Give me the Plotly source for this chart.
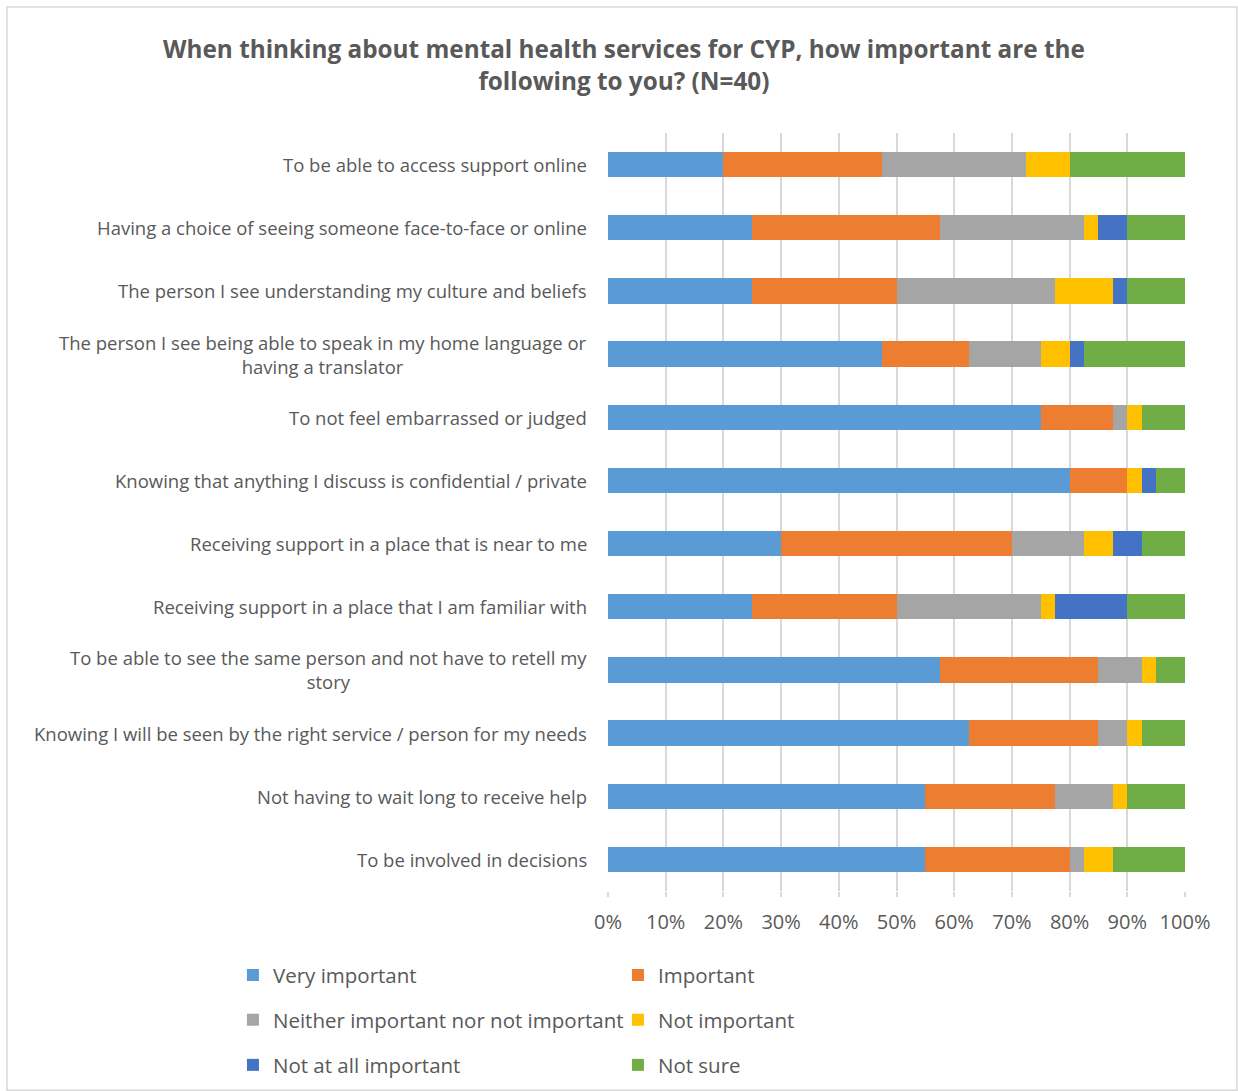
import plotly.graph_objects as go

# Survey items, listed top to bottom
categories = [
    "To be able to access support online",
    "Having a choice of seeing someone face-to-face or online",
    "The person I see understanding my culture and beliefs",
    "The person I see being able to speak in my home language or<br>having a translator",
    "To not feel embarrassed or judged",
    "Knowing that anything I discuss is confidential / private",
    "Receiving support in a place that is near to me",
    "Receiving support in a place that I am familiar with",
    "To be able to see the same person and not have to retell my<br>story",
    "Knowing I will be seen by the right service / person for my needs",
    "Not having to wait long to receive help",
    "To be involved in decisions",
]

# Percentage of respondents (N=40) per response option
very_important = [20, 25, 25, 47.5, 75, 80, 30, 25, 57.5, 62.5, 55, 55]
important = [27.5, 32.5, 25, 15, 12.5, 10, 40, 25, 27.5, 22.5, 22.5, 25]
neither = [25, 25, 27.5, 12.5, 2.5, 0, 12.5, 25, 7.5, 5, 10, 2.5]
not_important = [7.5, 2.5, 10, 5, 2.5, 2.5, 5, 2.5, 2.5, 2.5, 2.5, 5]
not_at_all = [0, 5, 2.5, 2.5, 0, 2.5, 5, 12.5, 0, 0, 0, 0]
not_sure = [20, 10, 10, 17.5, 7.5, 5, 7.5, 10, 5, 7.5, 10, 12.5]

x_ticks = list(range(0, 101, 10))

series = [
    ("Very important", very_important, "#5B9BD5", "legend"),
    ("Important", important, "#ED7D31", "legend"),
    ("Neither important nor not important", neither, "#A5A5A5", "legend2"),
    ("Not important", not_important, "#FFC000", "legend2"),
    ("Not at all important", not_at_all, "#4472C4", "legend3"),
    ("Not sure", not_sure, "#70AD47", "legend3"),
]

TEXT = "#595959"
FONT = "Open Sans"

fig = go.Figure()
for name, vals, color, leg in series:
    fig.add_trace(go.Bar(
        name=name,
        y=categories,
        x=vals,
        orientation="h",
        marker=dict(color=color, line=dict(width=0)),
        legend=leg,
    ))

# Category labels: right-aligned block, wrapped lines centred
annotations = []
for cat in categories:
    annotations.append(dict(
        x=-0.033, xref="paper", y=cat, yref="y",
        text=cat, showarrow=False, xanchor="right", yanchor="middle",
        align="center", font=dict(family=FONT, size=18.5, color=TEXT),
    ))

legend_common = dict(
    orientation="h", x=-0.65, xanchor="left", yanchor="middle",
    font=dict(family=FONT, size=20.5, color=TEXT),
    entrywidth=340, entrywidthmode="pixels",
    itemwidth=30, bgcolor="rgba(0,0,0,0)", traceorder="normal",
)

fig.update_layout(
    width=1238, height=1091,
    margin=dict(l=608, r=53, t=133, b=200, autoexpand=False),
    paper_bgcolor="white", plot_bgcolor="white",
    barmode="stack", bargap=0.6,
    title=dict(
        text="<b>When thinking about mental health services for CYP, how important are the<br>following to you? (N=40)</b>",
        x=0.504, xref="container", xanchor="center",
        y=0.9468, yref="container", yanchor="middle",
        font=dict(family=FONT, size=24.3, color=TEXT),
    ),
    xaxis=dict(
        range=[0, 100], tickvals=x_ticks, ticktext=[f"{v}%" for v in x_ticks],
        showgrid=True, gridcolor="#D9D9D9", gridwidth=1.5,
        zeroline=False, showline=False,
        tickfont=dict(family=FONT, size=20, color=TEXT),
        ticks="outside", ticklen=5, tickcolor="#D9D9D9", tickwidth=1.5,
        ticklabelstandoff=8,
        fixedrange=True,
    ),
    yaxis=dict(
        autorange="reversed", showticklabels=False, showgrid=False,
        zeroline=False, showline=False, fixedrange=True,
    ),
    annotations=annotations,
    legend=dict(legend_common, y=-0.111),
    legend2=dict(legend_common, y=-0.170),
    legend3=dict(legend_common, y=-0.2296),
    shapes=[dict(
        type="rect", xref="paper", yref="paper",
        x0=-1.0416, x1=1.0901, y0=-0.263, y1=1.1662,
        line=dict(color="#D9D9D9", width=1.5), fillcolor="rgba(0,0,0,0)",
        layer="below",
    )],
)

fig.write_html("out.html")
